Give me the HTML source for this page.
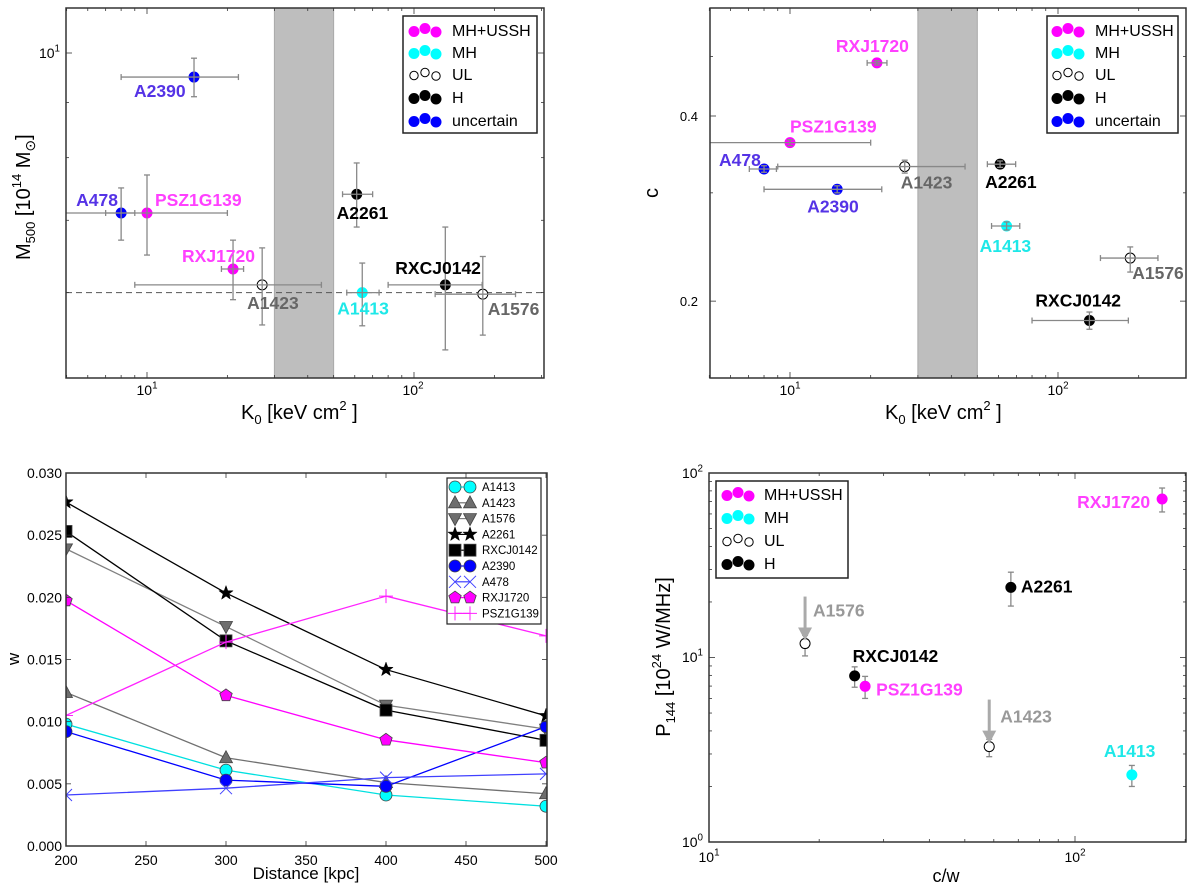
<!DOCTYPE html>
<html><head><meta charset="utf-8"><style>
html,body{margin:0;padding:0;background:#fff;}
svg{display:block;font-family:"Liberation Sans",sans-serif;}
</style></head><body>
<svg id="chart" width="1200" height="889" viewBox="0 0 1200 889" xmlns="http://www.w3.org/2000/svg">
<defs>
<clipPath id="c1"><rect x="66" y="8" width="478" height="370"/></clipPath>
<clipPath id="c2"><rect x="710" y="8" width="476" height="370"/></clipPath>
<clipPath id="c3"><rect x="66" y="473" width="481" height="373"/></clipPath>
<clipPath id="c4"><rect x="709" y="473" width="477" height="369"/></clipPath>
</defs>
</svg>
<script>
// ---------- data ----------
const p1Names=['A2390','A478','PSZ1G139','RXJ1720','A1423','A2261','A1413','RXCJ0142','A1576'];
const p1Types=['unc','unc','mhu','mhu','ul','h','mh','h','ul'];
const p1K=[15,8,10,21,27,61,64,131,181];
const p1Klo=[8,7,4,19,9,54,56,80,120];
const p1Khi=[22,9,20,23,45,70,74,180,240];
const p1M=[9.5,7.11,7.11,6.31,6.10,7.40,6.0,6.10,5.98];
const p1Mlo=[9.11,6.71,6.50,5.91,5.60,6.90,5.59,5.31,5.48];
const p1Mhi=[9.89,7.50,7.71,6.71,6.60,7.91,6.39,6.90,6.48];
const p1Line=6.0;

const p2Names=['RXJ1720','PSZ1G139','A478','A1423','A2261','A2390','A1413','A1576','RXCJ0142'];
const p2Types=['mhu','mhu','unc','ul','h','unc','mh','ul','h'];
const p2K=[21.1,10,8,26.8,60.8,15,64.3,186,131];
const p2Klo=[19.4,4,7.05,9,54.5,8,56.5,144,80];
const p2Khi=[23,20,8.9,45,69.5,22,72,236,183];
const p2C=[0.488,0.362,0.328,0.331,0.334,0.304,0.265,0.235,0.186];
const p2Clo=[0.484,0.358,0.324,0.323,0.330,0.300,0.261,0.223,0.180];
const p2Chi=[0.492,0.366,0.332,0.339,0.338,0.308,0.269,0.245,0.192];

const p3X=[200,300,400,500];
const p3A1413=[0.0098,0.0061,0.0041,0.0032];
const p3A1423=[0.01235,0.0071,0.0051,0.0042];
const p3A1576=[0.0239,0.01765,0.01133,0.0094];
const p3A2261=[0.02766,0.02034,0.01419,0.01047];
const p3RXCJ0142=[0.0253,0.0165,0.01093,0.0085];
const p3A2390=[0.0092,0.0053,0.0048,0.0096];
const p3A478=[0.0041,0.00465,0.0055,0.0058];
const p3RXJ1720=[0.01974,0.01211,0.00854,0.0067];
const p3PSZ1G139=[0.0105,0.0164,0.0201,0.0169];
const p3XTicks=[200,250,300,350,400,450,500];
const p3YTicks=['0.000','0.005','0.010','0.015','0.020','0.025','0.030'];

const p4Names=['RXJ1720','A2261','A1576','RXCJ0142','PSZ1G139','A1423','A1413'];
const p4Types=['mhu','h','ul','h','mhu','ul','mh'];
const p4CW=[173,66.8,18.3,25,26.7,58.3,143];
const p4P=[72.3,24,11.9,7.95,6.98,3.29,2.31];
const p4Plo=[61.5,19,10.2,6.9,6.0,2.9,2.0];
const p4Phi=[82.9,29,13.2,8.9,7.9,3.6,2.6];

// ---------- helpers ----------
const NS='http://www.w3.org/2000/svg';
const svg=document.getElementById('chart');
function mk(tag,attrs,parent){const e=document.createElementNS(NS,tag);for(const k in attrs)e.setAttribute(k,attrs[k]);(parent||svg).appendChild(e);return e;}
function grp(name,clip){const g=mk('g',clip?{'clip-path':'url(#'+clip+')'}:{});


return g;}
const L=Math.log10;
const FILL={mhu:'#ff00ff',mh:'#00ffff',ul:'#ffffff',h:'#000000',unc:'#0000ff'};
const LAB={mhu:'#ff40ff',mh:'#1ee8e8',ul:'#666666',h:'#000000',unc:'#5533e6'};
function logTicks(lo,hi){const r=[];for(let d=Math.floor(L(lo));d<=Math.ceil(L(hi));d++){for(let m=1;m<10;m++){const v=m*Math.pow(10,d);if(v>=lo*0.999&&v<=hi*1.001)r.push({v:v,maj:m===1,d:d});}}return r;}
function frame(g,x0,y0,x1,y1){const r=mk('rect',{x:x0,y:y0,width:x1-x0,height:y1-y0,fill:'none',stroke:'#333',"stroke-width":1.5},g);

}
function xTick(g,x,y0,y1,len){mk('line',{x1:x,y1:y1,x2:x,y2:y1-len,stroke:'#333','stroke-width':0.8},g);mk('line',{x1:x,y1:y0,x2:x,y2:y0+len,stroke:'#333','stroke-width':0.8},g);}
function yTick(g,y,x0,x1,len){mk('line',{x1:x0,y1:y,x2:x0+len,y2:y,stroke:'#333','stroke-width':0.8},g);mk('line',{x1:x1,y1:y,x2:x1-len,y2:y,stroke:'#333','stroke-width':0.8},g);}
function powLabel(g,x,y,exp,anchor,size){const t=mk('text',{x:x,y:y,'text-anchor':anchor,'font-size':size,fill:'#000'},g);t.appendChild(document.createTextNode('10'));const s=mk('tspan',{dy:-size*0.45,'font-size':size*0.7},t);s.textContent=exp;

return t;}
function ebar(g,x1,y1,x2,y2,cap,vert){mk('line',{x1:x1,y1:y1,x2:x2,y2:y2,stroke:'#888','stroke-width':1.3},g);
if(vert){mk('line',{x1:x1-cap,y1:y1,x2:x1+cap,y2:y1,stroke:'#888','stroke-width':1.3},g);mk('line',{x1:x1-cap,y1:y2,x2:x1+cap,y2:y2,stroke:'#888','stroke-width':1.3},g);}
else{mk('line',{x1:x1,y1:y1-cap,x2:x1,y2:y1+cap,stroke:'#888','stroke-width':1.3},g);mk('line',{x1:x2,y1:y1-cap,x2:x2,y2:y1+cap,stroke:'#888','stroke-width':1.3},g);}}
function dot(g,x,y,type,r){const c=mk('circle',{cx:x,cy:y,r:r,fill:FILL[type],stroke:type==='ul'?'#000':FILL[type],'stroke-width':1},g);return c;}
function label(g,x,y,txt,color,anchor,size){const t=mk('text',{x:x,y:y,fill:color,'font-size':size||17.5,'font-weight':'bold','text-anchor':anchor||'start'},g);t.textContent=txt;

return t;}
function legendDots(g,x0,y0,x1,y1,rows,dx,tx,entries){const b=mk('rect',{x:x0,y:y0,width:x1-x0,height:y1-y0,fill:'#fff',stroke:'#222','stroke-width':1.5},g);


entries.forEach((en,i)=>{const e=grp('legend-entry-'+en[1].toLowerCase().replace('+','-'));g.appendChild(e);
const offs=[1.5,-1.5,2];[0,1,2].forEach(k=>{dot(e,dx+k*11,rows[i]+offs[k],en[0],en[0]==='ul'?4.2:5);});
const t=mk('text',{x:tx,y:rows[i]+6,'font-size':16,fill:'#000'},e);t.textContent=en[1];});}

// ---------- panel 1 ----------
(function(){
const X=v=>147+267*(L(v)-1), Y=v=>53+1080*(1-L(v));
const gc=grp('mass-plot-area','c1');
const g=grp('mass-vs-k0-panel');
const band=mk('rect',{x:X(30),y:8,width:X(50)-X(30),height:370,fill:'#bebebe',stroke:'#aaa','stroke-width':1},gc);


const dl=mk('line',{x1:66,x2:544,y1:Y(p1Line),y2:Y(p1Line),stroke:'#555','stroke-width':1,'stroke-dasharray':'6,4'},gc);


const off={A2390:[-60,20],A478:[-45,-7],PSZ1G139:[8,-7],RXJ1720:[-51,-7],A1423:[-15,24],A2261:[-20,25],A1413:[-25,22],RXCJ0142:[-50,-11],A1576:[5,21]};
p1Names.forEach((n,i)=>{const pg=grp('point-'+n.toLowerCase());gc.appendChild(pg);
const x=X(p1K[i]),y=Y(p1M[i]);
dot(pg,x,y,p1Types[i],5);
ebar(pg,X(p1Klo[i]),y,X(p1Khi[i]),y,3,false);
ebar(pg,x,Y(p1Mhi[i]),x,Y(p1Mlo[i]),3,true);
label(g,x+off[n][0],y+off[n][1],n,LAB[p1Types[i]]);});
logTicks(5,300).forEach(t=>xTick(g,X(t.v),8,378,t.maj?6:3));
logTicks(5,11).forEach(t=>yTick(g,Y(t.v),66,544,t.maj?6:3));
frame(g,66,8,544,378);
powLabel(g,147,395,'1','middle',14);powLabel(g,413,395,'2','middle',14);
powLabel(g,60,58,'1','end',14);
legendDots(g,403,16,537,133,[30,52,74,97,120],414,452,[['mhu','MH+USSH'],['mh','MH'],['ul','UL'],['h','H'],['unc','uncertain']]);
const xl=mk('text',{x:241,y:419,'font-size':20},g);xl.innerHTML='K<tspan dy="5" font-size="13">0</tspan><tspan dy="-5"> [keV cm</tspan><tspan dy="-9" font-size="13">2</tspan><tspan dy="9"> ]</tspan>';


const yl=mk('text',{x:0,y:0,'font-size':20,transform:'translate(30,260) rotate(-90)'},g);yl.innerHTML='M<tspan dy="5" font-size="13">500</tspan><tspan dy="-5"> [10</tspan><tspan dy="-9" font-size="13">14</tspan><tspan dy="9"> M</tspan><tspan dy="5" font-size="14">⊙</tspan><tspan dy="-5">]</tspan>';


})();

// ---------- panel 2 ----------
(function(){
const X=v=>790+268*(L(v)-1), Y=v=>116-615*L(v/0.4);
const gc=grp('concentration-plot-area','c2');
const g=grp('concentration-vs-k0-panel');
const band=mk('rect',{x:X(30),y:8,width:X(50)-X(30),height:370,fill:'#bebebe',stroke:'#aaa','stroke-width':1},gc);


const off={RXJ1720:[-41,-11],PSZ1G139:[0,-10],A478:[-45,-3],A1423:[-4,22],A2261:[-15,24],A2390:[-30,23],A1413:[-27,26],A1576:[2,21],RXCJ0142:[-54,-14]};
p2Names.forEach((n,i)=>{const pg=grp('point-'+n.toLowerCase());gc.appendChild(pg);
const x=X(p2K[i]),y=Y(p2C[i]);
dot(pg,x,y,p2Types[i],5);
ebar(pg,X(p2Klo[i]),y,X(p2Khi[i]),y,3,false);
ebar(pg,x,Y(p2Chi[i]),x,Y(p2Clo[i]),3,true);
label(g,x+off[n][0],y+off[n][1],n,LAB[p2Types[i]]);});
logTicks(5,300).forEach(t=>xTick(g,X(t.v),8,378,t.maj?6:3));
[0.2,0.3,0.4,0.5].forEach(v=>yTick(g,Y(v),710,1186,(v===0.2||v===0.4)?6:3));
frame(g,710,8,1186,378);
powLabel(g,790,395,'1','middle',14);powLabel(g,1058,395,'2','middle',14);
[['0.4',0.4],['0.2',0.2]].forEach(a=>{const t=mk('text',{x:698,y:Y(a[1])+5,'font-size':13,'text-anchor':'end'},g);t.textContent=a[0];

});
legendDots(g,1047,16,1178,133,[30,52,74,97,120],1057,1095,[['mhu','MH+USSH'],['mh','MH'],['ul','UL'],['h','H'],['unc','uncertain']]);
const xl=mk('text',{x:885,y:419,'font-size':20},g);xl.innerHTML='K<tspan dy="5" font-size="13">0</tspan><tspan dy="-5"> [keV cm</tspan><tspan dy="-9" font-size="13">2</tspan><tspan dy="9"> ]</tspan>';


const yl=mk('text',{x:0,y:0,'font-size':20,transform:'translate(658,198) rotate(-90)'},g);yl.textContent='c';


})();

// ---------- panel 3 ----------
function marker(g,type,x,y,color){
const s={stroke:'#444','stroke-width':0.8,fill:color};
if(type==='circle')return mk('circle',Object.assign({cx:x,cy:y,r:6},s),g);
if(type==='square')return mk('rect',Object.assign({x:x-6,y:y-6,width:12,height:12},s),g);
if(type==='tu')return mk('polygon',Object.assign({points:`${x},${y-7} ${x-6.5},${y+5} ${x+6.5},${y+5}`},s),g);
if(type==='td')return mk('polygon',Object.assign({points:`${x},${y+7} ${x-6.5},${y-5} ${x+6.5},${y-5}`},s),g);
if(type==='pent'){let p=[];for(let k=0;k<5;k++){const a=-Math.PI/2+k*2*Math.PI/5;p.push((x+6.5*Math.cos(a)).toFixed(1)+','+(y+6.5*Math.sin(a)).toFixed(1));}return mk('polygon',Object.assign({points:p.join(' ')},s),g);}
if(type==='star'){let p=[];for(let k=0;k<10;k++){const r=k%2?3:7.5,a=-Math.PI/2+k*Math.PI/5;p.push((x+r*Math.cos(a)).toFixed(1)+','+(y+r*Math.sin(a)).toFixed(1));}return mk('polygon',Object.assign({points:p.join(' '),fill:color,stroke:color,'stroke-width':0.5}),g);}
if(type==='x'){const e=mk('path',{d:`M${x-6},${y-6}L${x+6},${y+6}M${x-6},${y+6}L${x+6},${y-6}`,stroke:color,'stroke-width':1,fill:'none'},g);return e;}
if(type==='plus'){return mk('path',{d:`M${x-7},${y}L${x+7},${y}M${x},${y-7}L${x},${y+7}`,stroke:color,'stroke-width':1,fill:'none'},g);}
}
(function(){
const X=v=>66+(v-200)*1.6, Y=v=>846-v*12433.33;
const series=[['A1413',p3A1413,'circle','#00ffff','#00e0e0'],['A1423',p3A1423,'tu','#6e6e6e','#707070'],['A1576',p3A1576,'td','#6e6e6e','#808080'],['A2261',p3A2261,'star','#000','#000'],['RXCJ0142',p3RXCJ0142,'square','#000','#000'],['A2390',p3A2390,'circle','#0000ff','#0000ff'],['A478',p3A478,'x','#4040ff','#4040ff'],['RXJ1720',p3RXJ1720,'pent','#ff00ff','#ff00ff'],['PSZ1G139',p3PSZ1G139,'plus','#ff22ff','#ff22ff']];
const gc=grp('w-plot-area','c3');
const g=grp('w-vs-distance-panel');
series.forEach(s=>{const sg=grp('series-'+s[0].toLowerCase());gc.appendChild(sg);
const ln=mk('polyline',{points:p3X.map((x,i)=>X(x)+','+Y(s[1][i])).join(' '),fill:'none',stroke:s[4],'stroke-width':1.3},sg);
p3X.forEach((x,i)=>marker(sg,s[2],X(x),Y(s[1][i]),s[3]));});
p3XTicks.forEach(v=>{xTick(g,X(v),473,846,5);const t=mk('text',{x:X(v),y:865,'font-size':14,'text-anchor':'middle'},g);t.textContent=v;

});
p3YTicks.forEach(s=>{const v=parseFloat(s);yTick(g,Y(v),66,547,5);const t=mk('text',{x:62,y:Y(v)+5,'font-size':14,'text-anchor':'end'},g);t.textContent=s;

});
frame(g,66,473,547,846);
const lg=grp('series-legend');g.appendChild(lg);
const b=mk('rect',{x:447,y:478,width:94,height:146,fill:'#fff',stroke:'#222','stroke-width':1.2},lg);


series.forEach((s,i)=>{const y=487+i*15.8;const e=grp('legend-entry-'+s[0].toLowerCase());lg.appendChild(e);
mk('line',{x1:455,x2:470,y1:y,y2:y,stroke:s[4],'stroke-width':1.2},e);
marker(e,s[2],455,y,s[3]);marker(e,s[2],470,y,s[3]);
const t=mk('text',{x:482,y:y+4,'font-size':11.5},e);t.textContent=s[0];});
const xl=mk('text',{x:306,y:879,'font-size':17,'text-anchor':'middle'},g);xl.textContent='Distance [kpc]';


const yl=mk('text',{x:0,y:0,'font-size':17,'text-anchor':'middle',transform:'translate(19,659) rotate(-90)'},g);yl.textContent='w';


})();

// ---------- panel 4 ----------
(function(){
const X=v=>709+366*(L(v)-1), Y=v=>473+184.5*(2-L(v));
const gc=grp('power-plot-area','c4');
const g=grp('power-vs-cw-panel');
const off={RXJ1720:[-12,9,'end'],A2261:[10,5,'start'],A1576:[8,-27,'start'],RXCJ0142:[-2,-14,'start'],PSZ1G139:[11,9,'start'],A1423:[11,-24,'start'],A1413:[-28,-18,'start']};
p4Names.forEach((n,i)=>{const pg=grp('point-'+n.toLowerCase());gc.appendChild(pg);
const x=X(p4CW[i]),y=Y(p4P[i]);
ebar(pg,x,Y(p4Phi[i]),x,Y(p4Plo[i]),3,true);
dot(pg,x,y,p4Types[i],5);
if(p4Types[i]==='ul'){const a=grp('upper-limit-arrow-'+n.toLowerCase());pg.appendChild(a);
mk('line',{x1:x,y1:y-47,x2:x,y2:y-14,stroke:'#aaa','stroke-width':3},a);
mk('polygon',{points:`${x-7},${y-16} ${x+7},${y-16} ${x},${y-3}`,fill:'#aaa'},a);}
const col=p4Types[i]==='ul'?'#999999':LAB[p4Types[i]];
label(g,x+off[n][0],y+off[n][1],n,col,off[n][2]);});
logTicks(10,201).forEach(t=>xTick(g,X(t.v),473,842,t.maj?6:3));
logTicks(1,100).forEach(t=>yTick(g,Y(t.v),709,1186,t.maj?6:3));
frame(g,709,473,1186,842);
powLabel(g,709,862,'1','middle',14);powLabel(g,1075,862,'2','middle',14);
powLabel(g,703,478,'2','end',14);powLabel(g,703,662,'1','end',14);powLabel(g,703,847,'0','end',14);
legendDots(g,716,481,848,578,[494,517,540,563],727,764,[['mhu','MH+USSH'],['mh','MH'],['ul','UL'],['h','H']]);
const xl=mk('text',{x:946,y:882,'font-size':18,'text-anchor':'middle'},g);xl.textContent='c/w';


const yl=mk('text',{x:0,y:0,'font-size':20,'text-anchor':'middle',transform:'translate(670,657) rotate(-90)'},g);yl.innerHTML='P<tspan dy="5" font-size="13">144</tspan><tspan dy="-5"> [10</tspan><tspan dy="-9" font-size="13">24</tspan><tspan dy="9">  W/MHz]</tspan>';


})();
</script>
</body></html>
